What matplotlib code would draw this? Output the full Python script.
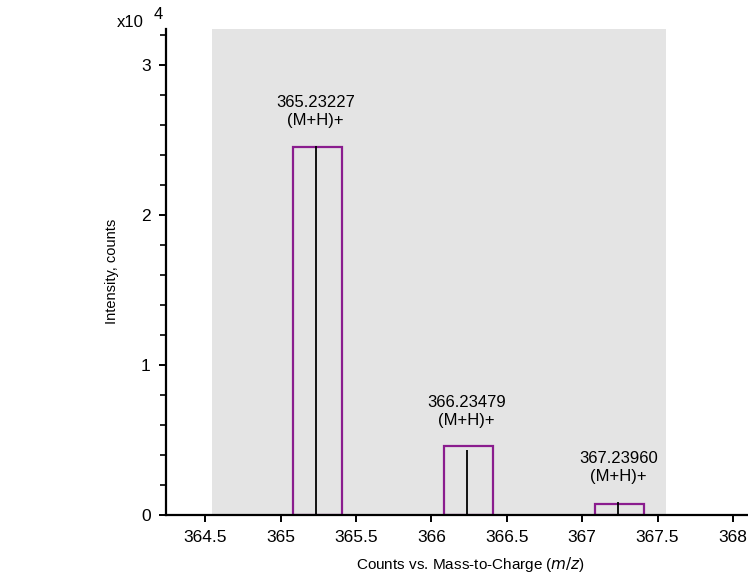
import matplotlib
matplotlib.use("Agg")
from matplotlib import pyplot as plt
from matplotlib.ticker import MultipleLocator, FuncFormatter

plt.rcParams['font.family'] = ['Liberation Sans', 'DejaVu Sans']

# data
masses = [365.23227, 366.23479, 367.23960]
stick_heights = [24600, 4330, 890]
box_heights = [24530, 4620, 730]
labels = ["365.23227\n(M+H)+", "366.23479\n(M+H)+", "367.23960\n(M+H)+"]
scan_range = (364.544, 367.557)
x_ticks = [364.5, 365, 365.5, 366, 366.5, 367, 367.5, 368]

fig = plt.figure(figsize=(7.48, 5.76), dpi=100)
ax = fig.add_axes([0.222, 0.106, 0.778, 0.844])

# gray scan window
ax.axvspan(scan_range[0], scan_range[1], color="#e4e4e4", zorder=0, lw=0)

# predicted isotope boxes
lefts = [m - 0.152 for m in masses]
ax.bar(lefts, box_heights, width=0.325, align="edge", fill=False,
       edgecolor="#8a1c8e", linewidth=1.6, zorder=2)

# measured peaks
ax.vlines(masses, 0, stick_heights, color="black", linewidth=1.3, zorder=3)

# peak labels
for m, hb, hs, lab in zip(masses, box_heights, stick_heights, labels):
    ax.annotate(lab, xy=(m, max(hb, hs)), xytext=(0, 13), textcoords="offset points",
                ha="center", va="bottom", fontsize=12, linespacing=1.25)

ax.set_xlim(364.24, 368.1)
ax.set_ylim(0, 32400)
ax.set_xticks(x_ticks)
ax.set_xticklabels(["364.5", "365", "365.5", "366", "366.5", "367", "367.5", "368"])
ax.yaxis.set_major_locator(MultipleLocator(10000))
ax.yaxis.set_minor_locator(MultipleLocator(2000))
ax.yaxis.set_major_formatter(FuncFormatter(lambda v, p: "%d" % round(v / 10000)))

for s in ["top", "right"]:
    ax.spines[s].set_visible(False)
ax.spines["left"].set_linewidth(1.6)
ax.spines["bottom"].set_linewidth(1.6)
ax.tick_params(axis="both", which="major", length=5, width=1.4, labelsize=12.5, pad=6)
ax.tick_params(axis="y", which="minor", length=4, width=1.2)
ax.set_facecolor("white")

ax.set_xlabel("Counts vs. Mass-to-Charge ($m/z$)", fontsize=11, labelpad=7)
ax.xaxis.label.set_x(0.524)
ax.set_ylabel("Intensity, counts", fontsize=10.5, labelpad=16)

fig.text(0.156, 0.948, "x10", fontsize=12, ha="left", va="bottom")
fig.text(0.206, 0.962, "4", fontsize=12, ha="left", va="bottom")

plt.savefig("out.png")
